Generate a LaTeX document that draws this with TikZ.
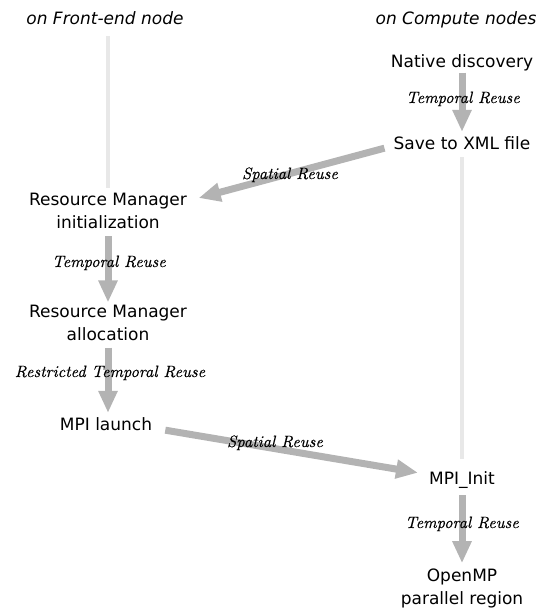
\documentclass[tikz,border=0pt]{standalone}
\usepackage{fontspec}
\newfontfamily\dejavu{DejaVu Sans}
\newfontfamily\labfont{lmroman10-italic}[Extension=.otf, FakeBold=0.35]
\usetikzlibrary{arrows.meta}
\definecolor{arrgray}{HTML}{B3B3B3}
\definecolor{linegray}{HTML}{E8E8E8}
\begin{document}
\begin{tikzpicture}[x=1pt,y=-1pt,
  txt/.style={font=\dejavu\fontsize{17}{23}\selectfont, inner sep=0pt, align=center},
  hdr/.style={font=\dejavu\itshape\fontsize{17}{23}\selectfont, inner sep=0pt, anchor=base},
  lab/.style={font=\labfont\fontsize{16.4}{20}\selectfont, inner sep=0pt, anchor=base},
  arr/.style={draw=arrgray, line width=7pt, -{Triangle[width=18pt,length=22pt]}},
  lightline/.style={draw=linegray, line width=3.5pt}]
\useasboundingbox (0,0) rectangle (548,610);
% nodes
\node[hdr] (hfe) at (105,25) {on Front-end node};
\node[hdr] (hcn) at (456,25) {on Compute nodes};
\node[txt, anchor=base] (nd) at (462,67) {Native discovery};
\node[txt, anchor=base] (save) at (462,149) {Save to XML file};
\node[txt] (rmi) at (108,211) {Resource Manager\\initialization};
\node[txt] (rma) at (108,322.5) {Resource Manager\\allocation};
\node[txt, anchor=base] (launch) at (106,430) {MPI launch};
\node[txt, anchor=base] (mpii) at (462,484) {MPI\_Init};
\node[txt] (omp) at (462,588) {OpenMP\\parallel region};
% light guide lines
\draw[lightline, shorten <=11pt, shorten >=5pt] (rmi.north |- hfe.south) -- (rmi.north);
\draw[lightline, shorten <=8pt, shorten >=12pt] (save.south) -- (mpii.north);
% arrows
\draw[arr, shorten <=2pt, shorten >=4pt] (nd.south) -- (save.north);
\draw[arr] ([shift={(-9,5.5)}]save.west) -- ([shift={(11.5,-13)}]rmi.east);
\draw[arr, shorten <=7pt, shorten >=2pt] (rmi.south) -- (rma.north);
\draw[arr, shorten <=7pt, shorten >=4pt] (rma.south) -- (rma.south |- launch.north);
\draw[arr] ([shift={(13,6.5)}]launch.east) -- ([shift={(-11,-6.8)}]mpii.west);
\draw[arr, shorten <=7pt, shorten >=5pt] (mpii.south) -- (omp.north);
% labels
\node[lab] (l1) at (463,103) {Temporal Reuse};
\node[lab] (l2) at (290,179) {Spatial Reuse};
\node[lab] (l3) at (109,267) {Temporal Reuse};
\node[lab] (l4) at (110,377) {Restricted Temporal Reuse};
\node[lab] (l5) at (275,447) {Spatial Reuse};
\node[lab] (l6) at (462,528) {Temporal Reuse};
\end{tikzpicture}
\end{document}
